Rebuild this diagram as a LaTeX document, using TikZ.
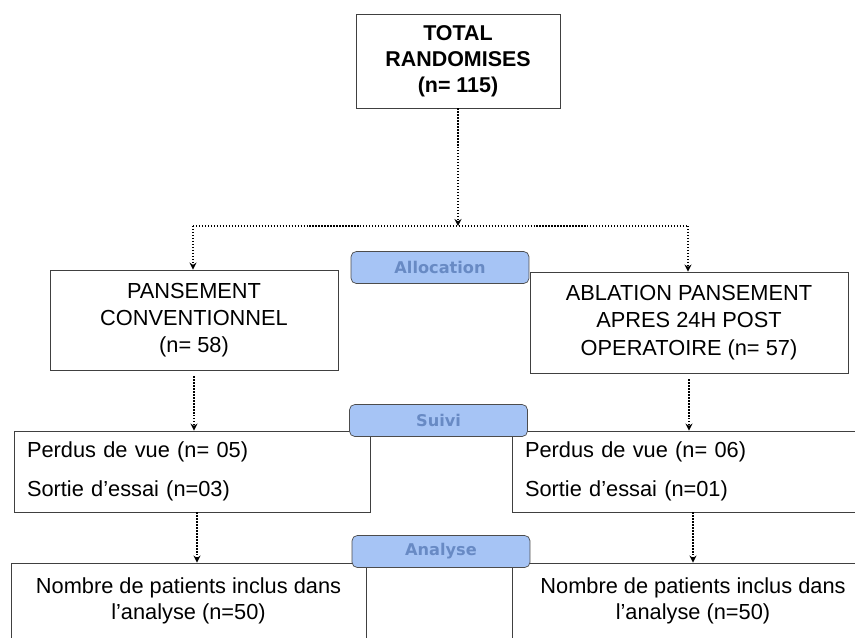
\documentclass[tikz,border=0pt]{standalone}
\usepackage{fontspec}
\setmainfont{Liberation Sans}
\newfontfamily\tagfont{DejaVu Sans}
\usetikzlibrary{arrows.meta}
\definecolor{tagfill}{RGB}{166,196,245}
\definecolor{tagtext}{RGB}{104,138,196}
\begin{document}
\begin{tikzpicture}[x=0.02cm, y=-0.02cm,
  box/.style={draw=black!75, line width=0.5pt, align=center, inner sep=0pt, font=\fontsize{12.4}{15.5}\selectfont},
  tag/.style={draw=black!70, fill=tagfill, rounded corners=3pt, text=tagtext, font=\tagfont\bfseries\fontsize{9.2}{11}\selectfont, minimum width=3.56cm, minimum height=0.64cm},
  link/.style={densely dotted, line width=0.7pt, -{Stealth[length=4pt,width=4pt]}}]
\useasboundingbox (0,0) rectangle (855,637);
\clip (0,0) rectangle (855,637);
\node[box, minimum width=4.08cm, minimum height=1.88cm, font=\bfseries\fontsize{12.2}{14.7}\selectfont] (total) at (458,61) {TOTAL\\RANDOMISES\\(n= 115)};
\coordinate (split) at (458,226);
\coordinate (splitl) at (193,226);
\coordinate (splitr) at (688,226);
\node[box, minimum width=5.76cm, minimum height=2.0cm] (conv) at (194,320) {PANSEMENT\\CONVENTIONNEL\\(n= 58)};
\node[box, minimum width=6.36cm, minimum height=2.02cm] (abl) at (689,322.5) {ABLATION PANSEMENT\\APRES 24H POST\\OPERATOIRE (n= 57)};
\node[box, minimum width=7.12cm, minimum height=1.62cm, inner xsep=0.26cm, text width=6.6cm, align=left] (lost1) at (192,471.5) {Perdus de vue (n= 05)\\[7pt]Sortie d’essai (n=03)};
\node[box, minimum width=7.24cm, minimum height=1.62cm, inner xsep=0.26cm, text width=6.72cm, align=left] (lost2) at (693,471.5) {Perdus de vue (n= 06)\\[7pt]Sortie d’essai (n=01)};
\node[box, minimum width=7.1cm, minimum height=1.52cm, font=\fontsize{12.4}{14.7}\selectfont] (incl1) at (188.5,601) {Nombre de patients inclus dans\\l’analyse (n=50)};
\node[box, minimum width=7.24cm, minimum height=1.52cm, font=\fontsize{12.4}{14.7}\selectfont] (incl2) at (693,601) {Nombre de patients inclus dans\\l’analyse (n=50)};
% connectors
\draw[link] (total.south) -- (split);
\draw[densely dotted, line width=0.7pt] (splitl) -- (splitr);
\draw[link] (splitl) -- (splitl |- conv.north);
\draw[link] (splitr) -- (splitr |- abl.north);
\draw[link, shorten <=0.12cm] (conv.south) -- (conv.south |- lost1.north);
\draw[link, shorten <=0.12cm] (abl.south) -- (abl.south |- lost2.north);
\draw[link] (lost1.south) ++(5,0) coordinate (l1) -- (l1 |- incl1.north);
\draw[link] (lost2.south) -- (lost2.south |- incl2.north);
% phase tags
\node[tag] (alloc) at (440,267.5) {Allocation};
\node[tag] (suivi) at (438.5,420.5) {Suivi};
\node[tag] (analyse) at (441,551.5) {Analyse};
\end{tikzpicture}
\end{document}
